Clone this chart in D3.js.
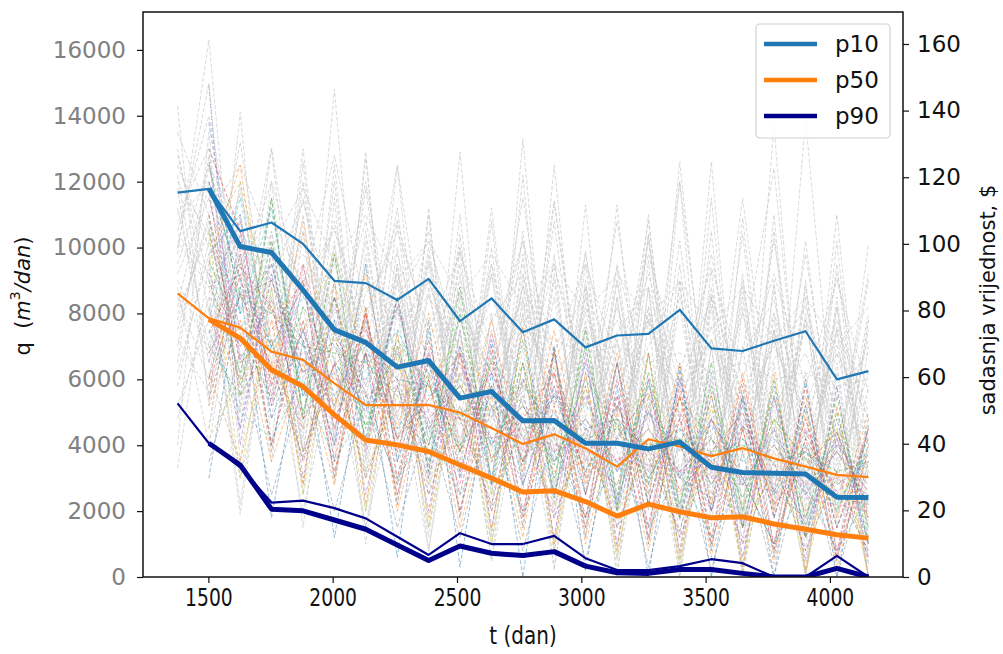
<!DOCTYPE html>
<html><head><meta charset="utf-8">
<script src="https://cdn.jsdelivr.net/npm/d3@7"></script>
<style>body{margin:0;background:#fff}svg{display:block;font-family:"DejaVu Sans",sans-serif}</style>
</head><body><svg id="c" width="1003" height="654"></svg>
<script>
// ---- data ----
const times = [1376,1502,1628,1754,1881,2007,2133,2260,2386,2512,2639,2765,2891,3017,3144,3270,3396,3523,3649,3775,3902,4028,4155];
const xTicks = [1500,2000,2500,3000,3500,4000];
const qTicks = [0,2000,4000,6000,8000,10000,12000,14000,16000];
const pvTicks = [0,20,40,60,80,100,120,140,160];
const legendLabels = ["p10","p50","p90"];

// percentile curves (thin: full period, thick: from 2nd step)
const p10Thin  = [11670,11780,10500,10760,10110,8990,8920,8410,9050,7770,8460,7430,7820,6970,7330,7380,8110,6940,6860,7170,7460,6000,6250];
const p50Thin  = [8610,7850,7570,6840,6590,5880,5220,5220,5220,4990,4520,4040,4330,3910,3350,4180,3960,3670,3910,3600,3350,3100,3030];
const p90Thin  = [5270,4060,3330,2260,2320,2090,1780,1220,670,1330,1000,1000,1250,570,210,210,330,540,420,0,0,640,0];
const p10Thick = [11800,10030,9850,8710,7500,7120,6370,6570,5430,5630,4740,4750,4060,4060,3890,4100,3330,3170,3150,3130,2420,2410];
const p50Thick = [7820,7250,6290,5780,4920,4160,4010,3810,3400,3000,2580,2620,2290,1850,2210,1980,1800,1830,1610,1450,1280,1180];
const p90Thick = [4060,3400,2060,2010,1730,1450,970,500,940,720,650,770,330,130,110,230,230,110,0,0,260,0];

// grey realisations (full period)
const greyRuns = [
[14300,5200,14100,4000,12600,3500,12900,2800,11000,3000,10800,2500,12500,3000,11300,2000,12000,1500,10900,2500,10200,3000,10100],
[9800,16300,6000,13000,4500,14800,3800,12500,3000,10400,2800,12200,2500,9900,2200,10400,2000,12600,1800,13700,2000,11000,1500],
[11200,7000,11800,6500,10500,5200,11800,4800,10000,4000,9500,3800,10800,3500,9000,3200,10200,3000,9000,2500,8800,2800,8000],
[6500,12800,5200,11500,4800,12000,3500,10800,3000,12900,2500,13300,2800,9500,2200,11000,1800,11500,2000,10500,1500,9500,1200],
[12500,10000,8500,9500,7500,8800,7000,8000,6800,8200,6200,7800,6000,7600,5800,7800,5500,7200,5200,7000,5000,6800,4800],
[4000,13500,3500,10500,2500,11500,2000,9500,1500,10000,1200,8500,1000,9000,800,8800,500,8500,300,9000,200,7500,0],
[8500,6000,12000,5500,11000,4200,10500,4000,9800,3500,11200,3000,9000,2500,9500,2500,8800,2200,9200,2000,8500,1800,7800],
[10500,14000,9000,12000,8500,10500,7800,10800,7200,9000,6800,9500,6500,8800,6000,9200,5800,8500,5500,8000,5200,7800,5000],
[7500,11000,4500,9800,3800,10200,3000,9000,2500,8500,2000,9800,1800,7800,1500,8800,1200,8200,1000,7500,800,8200,600],
[13000,8000,13200,7000,11500,6500,12000,6000,10500,5500,9500,5200,11400,4800,10800,4500,12000,4200,11500,4000,9800,3800,9200],
[3300,9500,1900,8500,2800,7800,1500,7500,1200,8200,1000,7000,800,7600,500,6800,300,7000,200,6500,100,6200,0],
[9500,12500,10500,9000,9800,8000,8800,7800,8500,7000,8000,7500,7200,6800,7000,6500,6800,6200,6500,6000,6200,5800,6000],
[11800,5500,9500,4800,12000,4000,9800,3500,8800,3200,10000,2800,9200,2500,8500,2200,9500,2000,8800,1800,8000,1500,7800],
[5800,10200,7500,9200,6500,8500,5800,8200,5200,7800,4800,8800,4500,7500,4200,8000,4000,7200,3800,7500,3500,6800,3200],
[10000,15000,5000,11500,4200,12500,3600,9500,3200,11000,2800,10500,2400,11300,2000,10400,1800,10500,1500,11000,1200,8500,1000],
[12800,9000,10200,8000,9500,7500,10800,6500,9000,6000,8500,5800,9500,5200,8200,5000,8500,4800,8000,4500,7600,4200,7200],
[8800,4000,9800,3500,10500,2800,9500,2200,11200,1800,8000,1500,9800,1200,8500,1000,9000,800,8200,600,9000,500,7000],
[7000,12000,8200,10000,7500,9500,6500,9200,6000,8600,5500,8200,5200,8000,5000,7800,4800,7600,4500,7200,4200,7000,4000],
[11000,13000,4500,12000,3800,9800,3200,10000,2800,9200,2500,9000,2200,8600,2000,9600,1700,9300,1500,8800,1200,10200,1000],
[4800,8500,3000,7000,2000,6500,1500,6000,800,6800,500,5800,300,6200,200,5500,0,6000,0,5200,0,5800,0],
[9200,11500,8000,13000,7000,10800,6800,12500,6000,10000,5500,11500,5200,9800,5000,10200,4800,9800,4500,10200,4200,9200,4000],
[12200,6500,11000,5800,9200,5000,10200,4200,9500,3800,9200,3500,8500,3000,9000,2800,8200,2500,8500,2200,7800,2000,7500],
[6200,9800,2200,8800,1500,9000,1000,8200,800,7500,500,8000,200,7200,0,7800,0,7000,0,7500,0,6500,0],
[10800,12000,9500,11000,8800,12800,8000,10500,7500,9800,7000,10200,6800,9500,6500,9800,6200,9400,6000,9200,5800,9000,5600],
[8000,10500,6000,9500,5500,9000,4800,8500,4200,9500,3800,8000,3500,8800,3200,8200,3000,8500,2800,7800,2500,8200,2200],
[13500,11000,12500,10000,11800,9500,11000,9000,10200,8500,9800,8200,9500,8000,9200,7800,9000,7500,8800,7200,8500,7000,8200],
[5200,7800,9000,4000,8200,3000,7800,2500,7000,2000,7500,1800,6800,1500,7200,1200,6500,1000,7000,800,6200,600,5800],
[10200,8800,7000,10500,6000,10000,5500,9000,5000,8800,4500,9200,4200,8500,4000,8200,3800,8800,3500,8000,3200,7500,3000],
[9000,6800,10800,7200,4500,8200,5800,11200,4000,7800,6200,10200,3800,8200,5000,10800,3200,6500,6800,12400,2800,7600,4800],
[7800,10800,6800,5200,13000,4200,12700,3500,8600,4800,9200,3000,11400,4200,7200,2800,12600,3500,10400,2200,13900,3400,9000],
[10400,9200,11600,8400,6200,9800,7400,5600,9600,6400,4800,8800,6800,5200,9400,6000,4400,8600,5400,3800,7800,5600,6800],
[7200,5600,8800,10200,7000,5200,8600,9800,6400,4600,7800,9200,5600,3800,7400,8800,5000,3600,6800,8400,4400,3200,6200],
[12000,10400,7600,9000,11400,7800,6200,8400,10200,6800,5400,7600,9400,6200,4800,7000,9000,5600,4400,6600,8200,5000,4200],
[8200,12400,9600,7000,8800,10600,6600,7400,9000,5800,6600,8400,5400,6000,7800,4800,5600,7200,4400,5200,6800,4200,4800]
];

// coloured realisations (from 2nd step)
const colourRuns = [
[13800,8000,9500,5500,7800,4200,8500,3500,7000,3000,7500,2500,6500,2200,6000,1800,5500,1500,5800,1200,4800,1000],
[9500,12500,6000,10800,5000,9200,4500,8000,3800,7800,3200,7500,2800,6800,2500,6500,2200,6200,2000,5500,1800,5000],
[7000,5500,11500,4800,9800,4000,8500,3200,8800,2800,7200,2400,7500,2000,6800,1800,6500,1500,6000,1200,5500,1000],
[11000,6500,7500,9000,3500,8000,3000,6800,2500,7000,2000,6200,1800,6500,1500,5800,1200,5500,1000,5800,800,4500],
[14900,4000,10000,3000,8500,2500,7000,2000,7500,1500,6500,1200,6800,1000,6000,800,6200,600,5500,500,5800,400],
[6000,9800,5200,7500,4800,6800,4200,6200,3800,5800,3500,5500,3200,5200,3000,4800,2800,4600,2600,4400,2400,2200],
[8500,7200,7800,6500,6000,5800,5200,5000,4800,4500,4200,4000,3800,3600,3400,3200,3000,2800,2600,2400,2200,2000],
[4500,10500,3800,9000,3000,8200,2200,7500,1800,6800,1500,7000,1200,6500,1000,6200,800,5800,600,5200,500,4800],
[10500,3000,8800,2500,7500,2000,6800,1500,6200,1000,6500,800,5800,600,5500,400,5200,200,4800,100,4500,0],
[7800,11500,6800,8500,7000,6000,7500,5500,6000,5000,5800,4500,5200,4200,5000,3800,4600,3500,4200,3200,4000,3000],
[12000,9000,7000,8800,5500,7200,6000,5800,4800,6200,4200,5500,4500,4800,3800,4500,3500,4200,3000,3800,2800,3500],
[5200,7800,3500,6500,2800,8200,2000,6000,1500,5500,1200,6800,1000,5000,800,5500,600,4500,400,5000,300,4000],
[9000,6200,10200,5000,8500,4500,7000,4000,8000,3500,6500,3000,7000,2500,6200,2200,5800,2000,5500,1800,5000,1500],
[13000,10500,5800,9500,4500,8000,3800,7200,3200,6500,3500,6800,2500,6000,2200,5500,2000,6000,1800,4800,1500,4500],
[8200,4500,9200,3800,6500,5200,5800,3000,6800,2800,5500,2500,5800,2000,5200,1800,4800,1500,4500,1200,4200,1000],
[6800,8500,9000,6200,7200,5500,6000,4800,5800,4200,5200,3800,4800,3500,4500,3200,4200,3000,4000,2800,3800,2600],
[11500,7500,6500,6800,6000,6000,5200,5200,4800,4200,4500,3800,4200,3500,3800,3200,3500,3000,3200,2800,3000,2500],
[3500,6800,2500,5800,2000,5500,1500,4800,1200,5200,800,4500,500,4800,300,4200,200,3800,0,4000,0,3500],
[10200,12000,8000,7500,9800,6500,7000,6000,7200,5500,5800,5000,5500,4500,5800,4000,5200,3800,4800,3500,4500,3200],
[7500,5000,4200,6000,3500,5200,3000,4500,2500,4200,2000,3800,1800,3500,1500,3200,1200,3000,1000,2800,800,2500],
[9800,11000,4800,7500,4000,9500,3500,6500,3000,7200,2800,5800,2500,6500,2200,6000,2000,5500,1800,5200,1500,4000],
[8000,6000,6500,4500,5500,4000,6500,3800,4000,3500,5000,3200,3500,2800,4200,2500,3500,2200,3800,2000,3200,1800],
[12500,8500,8000,7000,6800,6500,5500,5800,5000,5200,4500,4800,4200,4500,4000,4200,3800,4000,3500,3800,3200,3500],
[5800,9200,4000,7800,3200,6800,2500,6000,2000,5800,1800,5200,1500,5500,1200,4800,1000,4500,800,4200,600,3800],
[9200,7000,8200,6200,7000,5000,8200,4500,6500,4000,6000,3500,5500,3200,5000,3000,4800,2800,4500,2500,4200,2200],
[11800,5500,7200,3500,6500,3000,5800,2500,5200,2000,4800,1800,4500,1500,4200,1200,3800,1000,3500,800,3200,600],
[6500,10000,5500,8800,4500,7500,5000,6800,4200,6200,3800,5800,3500,5500,3200,5000,3000,4800,2800,4500,2500,4200],
[8800,9500,6200,5800,8500,5200,6800,4500,5800,4000,5200,3500,4800,3200,4500,3000,4200,2800,4000,2500,3800,2200],
[4200,6000,7200,3800,6200,3200,5500,2800,5000,2500,4500,2200,4000,2000,3800,1800,3500,1500,3200,1200,3000,1000],
[10800,8000,11200,5500,6200,7000,4500,6000,4000,5500,3500,5000,3200,4800,3000,4500,2800,4200,2500,4000,2200,3800],
[3000,8800,1800,7200,1200,6800,600,7800,300,6200,0,7000,200,5800,0,6400,0,5400,0,6000,0,4600],
[6200,3500,7800,2800,9000,2200,7400,1800,6800,1400,7600,1000,6200,800,6800,600,5600,300,6200,200,5200,0],
[9600,7400,5400,8200,6600,4600,7200,5800,3800,6600,5200,3400,6000,4600,2800,5400,4200,2400,4800,3600,2000,4200],
[7400,9400,8200,4800,6400,7600,4200,5400,6800,3600,4800,6200,3000,4200,5600,2600,3800,5000,2200,3400,4400,1800],
[12600,6600,8400,7200,4000,6800,6000,3400,6200,5200,2800,5600,4600,2400,5000,4000,2000,4600,3400,1600,4000,2800],
[5400,8600,6400,3600,7400,5600,2800,6600,4800,2200,6000,4200,1800,5200,3600,1400,4800,3000,1000,4200,2600,800],
[8600,10800,5200,9400,6200,3800,8400,5000,2800,7400,4200,2000,6600,3800,1600,6000,3200,1200,5400,2600,800,3200],
[10600,5800,9000,6600,5200,7800,4800,4000,7000,4200,3400,6400,3600,2800,5800,3000,2400,5200,2600,1800,4400,2000]
];

const palette = ["#1f77b4","#ff7f0e","#2ca02c","#d62728","#9467bd","#8c564b","#e377c2","#7f7f7f","#bcbd22","#17becf"];

// ---- layout ----
const L = 143, R = 903, T = 12, B = 577;
const svg = d3.select("#c");

const tPad = (d3.max(times) - d3.min(times)) * 0.05;
const x = d3.scaleLinear().domain([d3.min(times) - tPad, d3.max(times) + tPad]).range([L, R]);
const y = d3.scaleLinear().domain([0, 17150]).range([B, T]);
const y2 = d3.scaleLinear().domain([0, 169.6]).range([B, T]);

svg.append("clipPath").attr("id","pc").append("rect")
  .attr("x", L).attr("y", T).attr("width", R - L).attr("height", B - T);
const plot = svg.append("g").attr("clip-path","url(#pc)");

const lineFull = d3.line().x((d,i) => x(times[i])).y(d => y(d));
const lineLate = d3.line().x((d,i) => x(times[i+1])).y(d => y(d));

plot.selectAll(".grey").data(greyRuns).join("path")
  .attr("d", lineFull).attr("fill","none")
  .attr("stroke","#c4c4c4").attr("stroke-width",0.8).attr("stroke-opacity",0.8)
  .attr("stroke-dasharray","4,2");

plot.selectAll(".col").data(colourRuns).join("path")
  .attr("d", lineLate).attr("fill","none")
  .attr("stroke",(d,i) => palette[i % palette.length]).attr("stroke-width",0.8).attr("stroke-opacity",0.6)
  .attr("stroke-dasharray","4,2");

const pColors = {p10:"#1f77b4", p50:"#ff7f0e", p90:"#00008b"};
[[p10Thin,"p10"],[p50Thin,"p50"],[p90Thin,"p90"]].forEach(([d,k]) => {
  plot.append("path").datum(d).attr("d", lineFull).attr("fill","none")
    .attr("stroke", pColors[k]).attr("stroke-width",2.2).attr("stroke-linejoin","round");
});
[[p10Thick,"p10"],[p50Thick,"p50"],[p90Thick,"p90"]].forEach(([d,k]) => {
  plot.append("path").datum(d).attr("d", lineLate).attr("fill","none")
    .attr("stroke", pColors[k]).attr("stroke-width",5).attr("stroke-linejoin","round");
});

// ---- axes ----
const gx = svg.append("g").attr("transform",`translate(0,${B})`)
  .call(d3.axisBottom(x).tickValues(xTicks).tickSize(6).tickPadding(6).tickFormat(d3.format("d")));
gx.selectAll("text").attr("font-size",24).attr("fill","#111").attr("transform","scale(0.78,1)")
  .attr("font-family","DejaVu Sans");

const gy = svg.append("g").attr("transform",`translate(${L},0)`)
  .call(d3.axisLeft(y).tickValues(qTicks).tickSize(6).tickPadding(11).tickFormat(d3.format("d")));
gy.selectAll("text").attr("font-size",23).attr("fill","#808080").attr("font-family","DejaVu Sans");

const gy2 = svg.append("g").attr("transform",`translate(${R},0)`)
  .call(d3.axisRight(y2).tickValues(pvTicks).tickSize(6).tickPadding(8).tickFormat(d3.format("d")));
gy2.selectAll("text").attr("font-size",23).attr("fill","#111").attr("font-family","DejaVu Sans");

[gx, gy, gy2].forEach(g => {
  g.select(".domain").remove();
  g.selectAll("line").attr("stroke","#111").attr("stroke-width",1.2);
});

svg.append("rect").attr("x",L).attr("y",T).attr("width",R-L).attr("height",B-T)
  .attr("fill","none").attr("stroke","#111").attr("stroke-width",1.5);

// axis titles
svg.append("text").attr("x",523).attr("y",635).attr("text-anchor","middle")
  .attr("dominant-baseline","central").attr("font-size",25).attr("fill","#111")
  .attr("transform","translate(523,0) scale(0.8,1) translate(-523,0)")
  .text("t (dan)");

const yl = svg.append("text").attr("transform","translate(23,296) rotate(-90)")
  .attr("text-anchor","middle").attr("dominant-baseline","central")
  .attr("font-size",21).attr("fill","#111");
yl.append("tspan").text("q\u00a0\u00a0(");
yl.append("tspan").attr("font-style","italic").text("m");
yl.append("tspan").attr("font-size",14).attr("dy",-8).text("3");
yl.append("tspan").attr("font-style","italic").attr("dy",8).text("/dan");
yl.append("tspan").text(")");

svg.append("text").attr("transform","translate(988,300) rotate(-90)")
  .attr("text-anchor","middle").attr("dominant-baseline","central")
  .attr("font-size",21).attr("fill","#111").text("sadasnja vrijednost, $");

// ---- legend ----
const lg = svg.append("g");
lg.append("rect").attr("x",756).attr("y",24).attr("width",134).attr("height",114).attr("rx",4)
  .attr("fill","#fff").attr("fill-opacity",0.85).attr("stroke","#d0d0d0").attr("stroke-width",1.2);
legendLabels.forEach((k,i) => {
  const yy = 44 + i * 36;
  lg.append("line").attr("x1",764).attr("x2",817).attr("y1",yy).attr("y2",yy)
    .attr("stroke", pColors[k]).attr("stroke-width",4.5);
  lg.append("text").attr("x",835).attr("y",yy).attr("dominant-baseline","central")
    .attr("font-size",23).attr("fill","#111").text(k);
});
</script></body></html>
